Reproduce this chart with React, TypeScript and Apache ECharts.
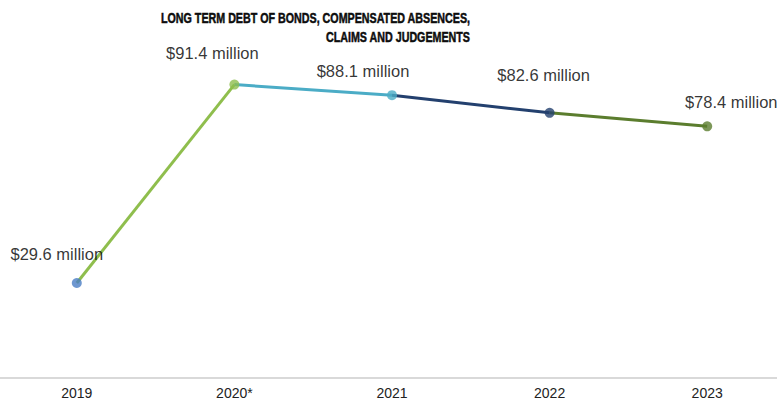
import React, { useEffect, useRef } from "react";
import * as echarts from "echarts";

const titleText = "LONG TERM DEBT OF BONDS, COMPENSATED ABSENCES,\nCLAIMS AND JUDGEMENTS";
const categories = ["2019", "2020*", "2021", "2022", "2023"];
const values = [29.6, 91.4, 88.1, 82.6, 78.4];
const segmentColors = ["#8fbe4d", "#4bacc6", "#23406e", "#5b7d2e"];
const pointColors = ["#4a7dc4", "#8fbe4d", "#4bacc6", "#23406e", "#5b7d2e"];
const labelOffsets = [
  [-20, -29],
  [-22, -32],
  [-29, -24],
  [-6, -38],
  [24, -24],
];

export default function App() {
  const ref = useRef<HTMLDivElement>(null);
  useEffect(() => {
    if (!ref.current) return;
    const chart = echarts.init(ref.current, undefined, { renderer: "svg" });
    const segSeries = segmentColors.map((c, i) => ({
      type: "line",
      data: values.map((v, j) => (j === i || j === i + 1 ? v : "-")),
      showSymbol: false,
      symbol: "none",
      lineStyle: { color: c, width: 3 },
      silent: true,
      z: 2,
    }));
    chart.setOption({
      animation: false,
      backgroundColor: "#ffffff",
      graphic: [
        {
          type: "group",
          x: 470,
          y: 8,
          scaleX: 0.714,
          children: [
            {
              type: "text",
              x: 0,
              y: 0,
              style: {
                text: titleText,
                align: "right",
                verticalAlign: "top",
                font: "bold 15px 'Liberation Sans'",
                lineHeight: 19,
                fill: "#0d0d0d",
                stroke: "#0d0d0d",
                lineWidth: 0.5,
              },
            },
          ],
        },
      ],
      grid: {
        left: -2,
        width: 788,
        top: 57,
        bottom: 24,
        containLabel: false,
        outerBoundsMode: "none",
      },
      xAxis: {
        type: "category",
        data: categories,
        boundaryGap: true,
        axisTick: { show: false },
        axisLine: { lineStyle: { color: "#d9d9d9", width: 2 } },
        axisLabel: {
          color: "#222",
          fontSize: 14,
          margin: 8,
          fontFamily: "Liberation Sans",
        },
      },
      yAxis: { type: "value", min: 0, max: 100, show: false },
      series: [
        ...segSeries,
        {
          type: "scatter",
          symbolSize: 10,
          z: 3,
          data: values.map((v, i) => ({
            value: v,
            itemStyle: { color: pointColors[i] },
            label: { offset: labelOffsets[i] },
          })),
          label: {
            show: true,
            position: "inside",
            color: "#000",
            fontSize: 16.5,
            fontFamily: "Liberation Sans",
            formatter: (p: any) => `$${values[p.dataIndex].toFixed(1)} million`,
          },
        },
      ],
    });
    return () => chart.dispose();
  }, []);
  return (
    <div
      ref={ref}
      style={{ position: "fixed", left: 0, top: 0, width: 777, height: 402 }}
    />
  );
}
